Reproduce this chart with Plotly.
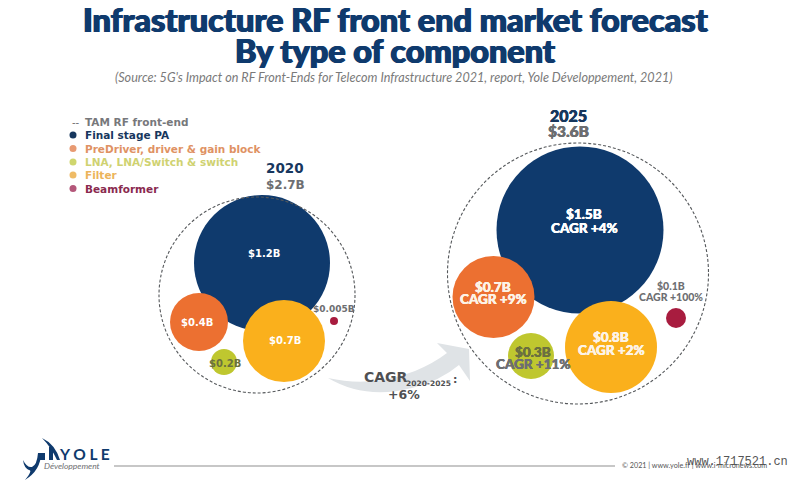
import plotly.graph_objects as go

# ---- data ----
components = ["Final stage PA", "PreDriver, driver & gain block", "LNA, LNA/Switch & switch", "Filter", "Beamformer"]
colors = ["#0f3a6d", "#ec7031", "#bfc72f", "#fab01c", "#a81c3f"]
legend_colors = ["#17375e", "#df9264", "#cfd271", "#ecb45a", "#8a2a4f"]
legend_dots = ["#17375e", "#e89a72", "#cfd66e", "#efbb66", "#b4577a"]

x_2020 = [262, 199, 224, 284, 334]
y_2020 = [263, 322, 362, 341, 321]
d_2020 = [136, 58, 26, 82, 8]
labels_2020 = ["$1.2B", "$0.4B", "$0.2B", "$0.7B", "$0.005B"]
x_2025 = [580, 493.5, 531, 611, 676]
y_2025 = [230, 297, 356, 347, 318]
d_2025 = [167, 82, 46, 92, 20]
values_2025 = ["$1.5B", "$0.7B", "$0.3B", "$0.8B", "$0.1B"]
cagr_2025 = ["CAGR +4%", "CAGR +9%", "CAGR +11%", "CAGR +2%", "CAGR +100%"]

NAVY = "#0f3a6d"
GREY = "#6d6e71"
HEAVY = "Lato"
WIDE = "DejaVu Sans"

fig = go.Figure()

# Arrow behind everything
shapes = [dict(type="path", layer="below", line_width=0, fillcolor="#dfe3e6",
               path="M 328 378 Q 372 388 415 371 Q 434 363 447 353 L 437 343 L 469 349 L 470 381 L 459 365 "
                    "Q 440 381 412 388 Q 365 400 328 378 Z")]
# Dashed TAM circles
for cx, cy, r in [(257, 295, 98), (578, 273.5, 130.5)]:
    shapes.append(dict(type="circle", x0=cx - r, x1=cx + r, y0=cy - r, y1=cy + r,
                       line=dict(color="#55585b", width=1.1, dash="3px,2px")))
# Footer line
shapes.append(dict(type="line", x0=114, x1=615, y0=466, y1=466, line=dict(color="#8f8f8f", width=1)))
# Logo marks
shapes += [
    dict(type="path", line_width=0, fillcolor=NAVY,
         path="M 23 460 Q 27 468 32 467 Q 37 465 38 453 L 41 453 Q 41 470 25 480 Q 33 470 29 470 Q 24 468 23 460 Z"),
    dict(type="path", line_width=0, fillcolor=NAVY, path="M 40 453 L 45 453 L 45 460 L 40 460 Z"),
    dict(type="path", line_width=0, fillcolor=NAVY, path="M 49 447 L 53 447 L 53 460 L 49 460 Z"),
    dict(type="path", line_width=0, fillcolor=NAVY,
         path="M 42 438 Q 55 444 60 460 L 57 460 Q 51 447 42 438 Z"),
]

for i, name in enumerate(components):
    fig.add_trace(go.Scatter(x=[x_2020[i]], y=[y_2020[i]], mode="markers", name=name + " 2020", showlegend=False,
                             marker=dict(size=d_2020[i], color=colors[i], line_width=0), hoverinfo="skip"))
for i, name in enumerate(components):
    fig.add_trace(go.Scatter(x=[x_2025[i]], y=[y_2025[i]], mode="markers", name=name + " 2025", showlegend=False,
                             marker=dict(size=d_2025[i], color=colors[i], line_width=0), hoverinfo="skip"))

# Legend dots
fig.add_trace(go.Scatter(x=[73] * 5, y=[135, 148.5, 162, 175, 188.5], mode="markers", showlegend=False,
                         marker=dict(size=7, color=legend_dots, line_width=0), hoverinfo="skip"))

ann = []
def T(x, y, text, size, color, family=WIDE, bold=True, anchor="center", italic=False, weight=None, thick=0):
    font = dict(size=size, color=color, family=family,
                weight=weight if weight else (700 if bold else 400),
                style="italic" if italic else "normal")
    if thick:
        font["shadow"] = f"{thick}px 0 0 {color}, -{thick}px 0 0 {color}"
    ann.append(dict(x=x, y=y, text=text, showarrow=False, xanchor=anchor, yanchor="middle", align="center", font=font))

# Titles
T(396, 19.5, "Infrastructure RF front end market forecast", 32.4, NAVY, HEAVY, weight=900, thick=0.7)
T(395, 50, "By type of component", 32.4, NAVY, HEAVY, weight=900, thick=0.7)
T(394, 77, "(Source: 5G's Impact on RF Front-Ends for Telecom Infrastructure 2021, report, Yole Développement, 2021)",
  12.6, "#7a7a7a", "Lato", bold=False, italic=True)

# Legend
T(70, 122, "--", 10, GREY, bold=False, anchor="left")
T(83, 122, "TAM RF front-end", 10.5, "#77787b", anchor="left")
for y, name, c in zip([135, 148.5, 162, 175, 188.5], components, legend_colors):
    T(83, y, name, 10.5, c, anchor="left")

# Year headers
T(285, 168, "2020", 13.5, "#17375e", "DejaVu Sans")
T(285, 185, "$2.7B", 12, GREY, "DejaVu Sans")
T(568, 115, "2025", 16, "#17375e", "Lato", weight=900, thick=0.3)
T(568, 131, "$3.6B", 15.5, GREY, "Lato", weight=900, thick=0.3)

# 2020 bubble labels
T(264, 253, labels_2020[0], 10, "white")
T(197, 322, labels_2020[1], 10, "white")
T(225, 363, labels_2020[2], 10, "#6b7040")
T(285, 340, labels_2020[3], 10, "white")
T(334, 309, labels_2020[4], 9, GREY)

# 2025 bubble labels: value line and CAGR line
T(584, 214, values_2025[0], 13.5, "white", "Lato", weight=900, thick=0.2)
T(584, 228, cagr_2025[0], 13.5, "white", "Lato", weight=900, thick=0.2)
T(493, 287, values_2025[1], 13.5, "#fdf3e6", "Lato", weight=900, thick=0.2)
T(493, 299, cagr_2025[1], 13.5, "#fdf3e6", "Lato", weight=900, thick=0.2)
T(533, 352, values_2025[2], 13.5, "#6b7040", "Lato", weight=900, thick=0.2)
T(533, 364, cagr_2025[2], 13.5, GREY, "Lato", weight=900, thick=0.2)
T(611, 337, values_2025[3], 13.5, "#fdf3e6", "Lato", weight=900, thick=0.2)
T(611, 350, cagr_2025[3], 13.5, "#fdf3e6", "Lato", weight=900, thick=0.2)
T(671, 286, values_2025[4], 10.5, GREY, "Lato", weight=900)
T(671, 297, cagr_2025[4], 10.5, GREY, "Lato", weight=900)

# Growth arrow text
T(362, 377, "CAGR", 14, "#4f5053", "DejaVu Sans", anchor="left")
T(404, 383, "2020-2025", 7.5, "#4f5053", "DejaVu Sans", anchor="left")
T(455, 379, ":", 11, "#4f5053", "DejaVu Sans")
T(404, 394, "+6%", 12.5, "#4f5053", "DejaVu Sans")

# Footer
T(57, 454, "Y O L E", 15.5, NAVY, "Lato", anchor="left", weight=700)
T(42, 466, "Développement", 8.5, GREY, "Lato", bold=False, italic=True, anchor="left")
T(620, 465.5, "© 2021 | www.yole.fr | www.i-micronews.com", 7.2, "#555555", "Lato", bold=False, anchor="left")
T(790, 462, "www.1717521.cn", 12, "#555555", "Liberation Mono", bold=False, anchor="right")

fig.update_layout(
    width=800, height=482, margin=dict(l=0, r=0, t=0, b=0),
    paper_bgcolor="white", plot_bgcolor="white", showlegend=False,
    shapes=shapes, annotations=ann,
    xaxis=dict(range=[0, 800], visible=False, fixedrange=True),
    yaxis=dict(range=[482, 0], visible=False, fixedrange=True),
)
fig.write_html("out.html", config={"displayModeBar": False},
               post_script="document.body.style.margin='0';document.body.style.overflow='hidden';")
